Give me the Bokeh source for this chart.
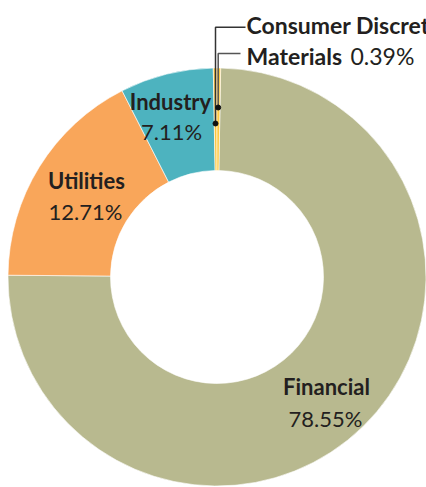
import numpy as np
from bokeh.plotting import figure
from bokeh.models import Range1d, ColumnDataSource
from bokeh.core.properties import value
from bokeh.embed import file_html
from bokeh.resources import INLINE

# ---- data ----
categories = ["Financial", "Utilities", "Industry", "Consumer Discretionary", "Materials"]
shares = [74.86, 17.36, 7.22, 0.28, 0.28]          # slice sizes as drawn, % of the ring
pct_labels = ["78.55%", "12.71%", "7.11%", "", "0.39%"]
colors = ["#b8b98f", "#f9a65a", "#4db3bf", "#fcc53c", "#ffc93f"]

# ---- layout ----
W, H = 426, 487
def px(x):  # page x -> data x
    return x
def py(y):  # page y -> data y
    return H - y

cx, cy = px(216.5), py(276.5)
R_OUT, R_IN = 209, 106.5
START_DEG = 1.0  # clockwise from 12 o'clock, where Financial begins

p = figure(width=W, height=H, output_backend="svg", toolbar_location=None,
           x_range=Range1d(0, W), y_range=Range1d(0, H), min_border=0)
p.axis.visible = False
p.grid.visible = False
p.outline_line_color = None
p.background_fill_color = "white"

sh = np.array(shares, dtype=float)
ends = START_DEG + np.cumsum(sh) * 3.6
starts = ends - sh * 3.6
src = ColumnDataSource(dict(
    cat=categories,
    start=(np.pi / 2 - np.radians(starts)).tolist(),
    end=(np.pi / 2 - np.radians(ends)).tolist(),
    color=colors,
))
p.annular_wedge(x=cx, y=cy, inner_radius=R_IN, outer_radius=R_OUT,
                start_angle="start", end_angle="end", direction="clock",
                fill_color="color", line_color="white", line_width=0.6, source=src)

FONT = value("Lato")
TXT = "#231f20"
FS_NAME = "22px"
FS_PCT = "22px"
FS_TOP = "23px"
DY = 7  # baseline correction

# in-ring labels
name_x = [px(326), px(86), px(170)]
name_y = [py(393.3 - DY), py(186.7 - DY), py(108.3 - DY)]
pct_x = [px(325), px(85), px(171)]
pct_y = [py(424.5 - DY), py(218.3 - DY), py(138.3 - DY)]
p.text(x=name_x, y=name_y, text=categories[:3], text_font=FONT, text_font_style="bold",
       text_font_size=FS_NAME, text_color=TXT, text_align="center", text_baseline="alphabetic")
p.text(x=pct_x, y=pct_y, text=pct_labels[:3], text_font=FONT,
       text_font_size=FS_PCT, text_color=TXT, text_align="center", text_baseline="alphabetic")

# callouts for the small slices
p.line(x=[px(245), px(215), px(215)], y=[py(26.7), py(26.7), py(123)], line_color="#333333", line_width=1.5)
p.line(x=[px(240), px(217.7), px(217.7)], y=[py(53), py(53), py(107)], line_color="#555555", line_width=1.5)
p.scatter(x=[px(215), px(217.7)], y=[py(123), py(107)], size=5, color="#111111")

p.text(x=[px(246)], y=[py(31.7 - DY)], text=[categories[3]], text_font=FONT, text_font_style="bold",
       text_font_size=FS_TOP, text_color=TXT, text_align="left", text_baseline="alphabetic")
p.text(x=[px(246)], y=[py(62.3 - DY)], text=[categories[4]], text_font=FONT, text_font_style="bold",
       text_font_size=FS_TOP, text_color=TXT, text_align="left", text_baseline="alphabetic")
p.text(x=[px(350)], y=[py(62.3 - DY)], text=[pct_labels[4]], text_font=FONT,
       text_font_size=FS_TOP, text_color=TXT, text_align="left", text_baseline="alphabetic")

open("out.html", "w").write(file_html(p, INLINE))
